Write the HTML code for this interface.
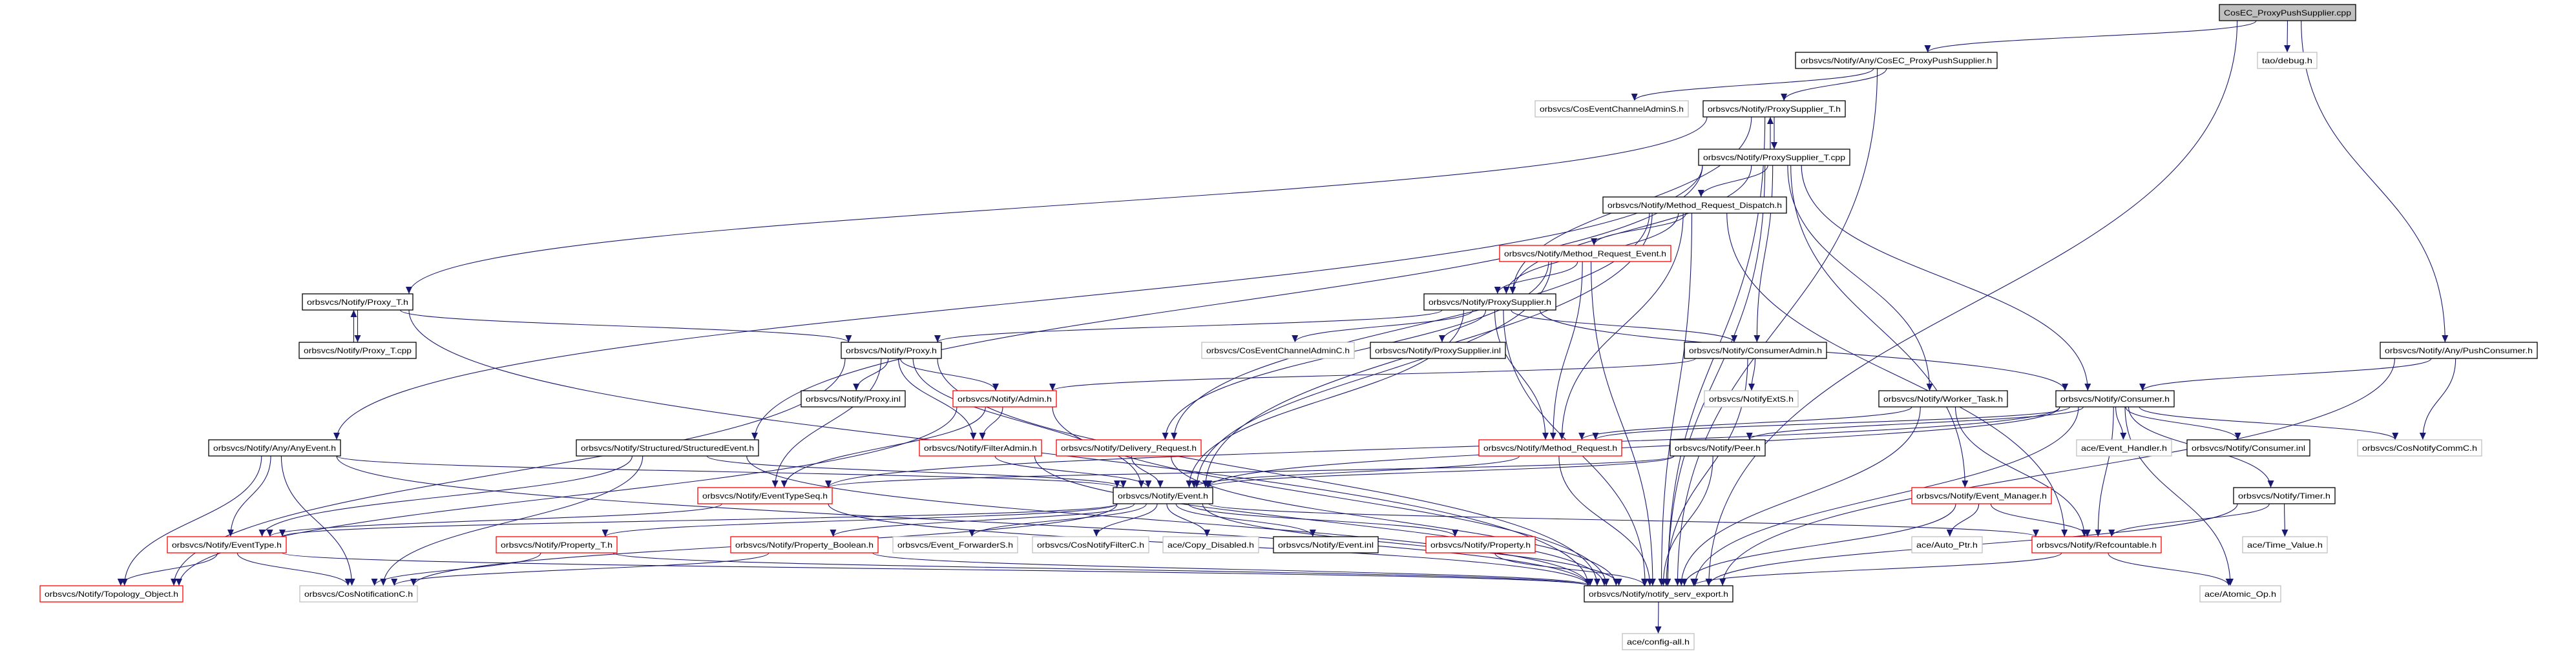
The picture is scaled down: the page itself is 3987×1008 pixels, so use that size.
<!DOCTYPE html>
<html><head><meta charset="utf-8"><style>
html,body{margin:0;padding:0;background:#fff;}
svg{display:block;}
text{font-family:"Liberation Sans",sans-serif;font-size:12px;fill:#000;}
</style></head><body>
<svg id="g" width="3987" height="1008" viewBox="0 0 3987 1008" xmlns="http://www.w3.org/2000/svg">
<defs><marker id="ah" markerUnits="userSpaceOnUse" markerWidth="12" markerHeight="10" refX="11" refY="5" orient="auto"><path d="M0,0 L11,5 L0,10 z" fill="#191970"/></marker></defs>
<g id="edges" fill="none" stroke="#191970" stroke-width="1.1"></g>
<g id="nodes" stroke-width="1.3">
<rect x="3435" y="7" width="211" height="25" fill="#bfbfbf" stroke="#000"/><text x="3540.5" y="24" text-anchor="middle" textLength="197" lengthAdjust="spacingAndGlyphs">CosEC_ProxyPushSupplier.cpp</text>
<rect x="3494" y="81" width="92" height="25" fill="#fff" stroke="#bfbfbf"/><text x="3540" y="98" text-anchor="middle" textLength="78" lengthAdjust="spacingAndGlyphs">tao/debug.h</text>
<rect x="2779" y="81" width="312" height="25" fill="#fff" stroke="#000"/><text x="2935" y="98" text-anchor="middle" textLength="296" lengthAdjust="spacingAndGlyphs">orbsvcs/Notify/Any/CosEC_ProxyPushSupplier.h</text>
<rect x="2376" y="156" width="237" height="25" fill="#fff" stroke="#bfbfbf"/><text x="2494.5" y="173" text-anchor="middle" textLength="223" lengthAdjust="spacingAndGlyphs">orbsvcs/CosEventChannelAdminS.h</text>
<rect x="2636" y="156" width="220" height="25" fill="#fff" stroke="#000"/><text x="2746" y="173" text-anchor="middle" textLength="206" lengthAdjust="spacingAndGlyphs">orbsvcs/Notify/ProxySupplier_T.h</text>
<rect x="2629" y="231" width="234" height="25" fill="#fff" stroke="#000"/><text x="2746" y="248" text-anchor="middle" textLength="220" lengthAdjust="spacingAndGlyphs">orbsvcs/Notify/ProxySupplier_T.cpp</text>
<rect x="2481" y="305" width="284" height="25" fill="#fff" stroke="#000"/><text x="2623" y="322" text-anchor="middle" textLength="270" lengthAdjust="spacingAndGlyphs">orbsvcs/Notify/Method_Request_Dispatch.h</text>
<rect x="2321" y="380" width="265" height="25" fill="#fff" stroke="#f00"/><text x="2453.5" y="397" text-anchor="middle" textLength="251" lengthAdjust="spacingAndGlyphs">orbsvcs/Notify/Method_Request_Event.h</text>
<rect x="468" y="455" width="171" height="25" fill="#fff" stroke="#000"/><text x="553.5" y="472" text-anchor="middle" textLength="157" lengthAdjust="spacingAndGlyphs">orbsvcs/Notify/Proxy_T.h</text>
<rect x="2204" y="455" width="204" height="25" fill="#fff" stroke="#000"/><text x="2306" y="472" text-anchor="middle" textLength="190" lengthAdjust="spacingAndGlyphs">orbsvcs/Notify/ProxySupplier.h</text>
<rect x="463" y="530" width="181" height="25" fill="#fff" stroke="#000"/><text x="553.5" y="547" text-anchor="middle" textLength="167" lengthAdjust="spacingAndGlyphs">orbsvcs/Notify/Proxy_T.cpp</text>
<rect x="1302" y="530" width="155" height="25" fill="#fff" stroke="#000"/><text x="1379.5" y="547" text-anchor="middle" textLength="141" lengthAdjust="spacingAndGlyphs">orbsvcs/Notify/Proxy.h</text>
<rect x="1860" y="530" width="236" height="25" fill="#fff" stroke="#bfbfbf"/><text x="1978" y="547" text-anchor="middle" textLength="222" lengthAdjust="spacingAndGlyphs">orbsvcs/CosEventChannelAdminC.h</text>
<rect x="2121" y="530" width="209" height="25" fill="#fff" stroke="#000"/><text x="2225.5" y="547" text-anchor="middle" textLength="195" lengthAdjust="spacingAndGlyphs">orbsvcs/Notify/ProxySupplier.inl</text>
<rect x="2607" y="530" width="220" height="25" fill="#fff" stroke="#000"/><text x="2717" y="547" text-anchor="middle" textLength="206" lengthAdjust="spacingAndGlyphs">orbsvcs/Notify/ConsumerAdmin.h</text>
<rect x="3684" y="530" width="243" height="25" fill="#fff" stroke="#000"/><text x="3805.5" y="547" text-anchor="middle" textLength="229" lengthAdjust="spacingAndGlyphs">orbsvcs/Notify/Any/PushConsumer.h</text>
<rect x="1240" y="605" width="161" height="25" fill="#fff" stroke="#000"/><text x="1320.5" y="622" text-anchor="middle" textLength="147" lengthAdjust="spacingAndGlyphs">orbsvcs/Notify/Proxy.inl</text>
<rect x="1475" y="605" width="160" height="25" fill="#fff" stroke="#f00"/><text x="1555" y="622" text-anchor="middle" textLength="146" lengthAdjust="spacingAndGlyphs">orbsvcs/Notify/Admin.h</text>
<rect x="2638" y="605" width="145" height="25" fill="#fff" stroke="#bfbfbf"/><text x="2710.5" y="622" text-anchor="middle" textLength="131" lengthAdjust="spacingAndGlyphs">orbsvcs/NotifyExtS.h</text>
<rect x="2908" y="605" width="199" height="25" fill="#fff" stroke="#000"/><text x="3007.5" y="622" text-anchor="middle" textLength="185" lengthAdjust="spacingAndGlyphs">orbsvcs/Notify/Worker_Task.h</text>
<rect x="3182" y="605" width="183" height="25" fill="#fff" stroke="#000"/><text x="3273.5" y="622" text-anchor="middle" textLength="169" lengthAdjust="spacingAndGlyphs">orbsvcs/Notify/Consumer.h</text>
<rect x="323" y="681" width="204" height="25" fill="#fff" stroke="#000"/><text x="425" y="698" text-anchor="middle" textLength="190" lengthAdjust="spacingAndGlyphs">orbsvcs/Notify/Any/AnyEvent.h</text>
<rect x="892" y="681" width="282" height="25" fill="#fff" stroke="#000"/><text x="1033" y="698" text-anchor="middle" textLength="268" lengthAdjust="spacingAndGlyphs">orbsvcs/Notify/Structured/StructuredEvent.h</text>
<rect x="1423" y="681" width="189" height="25" fill="#fff" stroke="#f00"/><text x="1517.5" y="698" text-anchor="middle" textLength="175" lengthAdjust="spacingAndGlyphs">orbsvcs/Notify/FilterAdmin.h</text>
<rect x="1635" y="681" width="224" height="25" fill="#fff" stroke="#f00"/><text x="1747" y="698" text-anchor="middle" textLength="210" lengthAdjust="spacingAndGlyphs">orbsvcs/Notify/Delivery_Request.h</text>
<rect x="2289" y="681" width="221" height="25" fill="#fff" stroke="#f00"/><text x="2399.5" y="698" text-anchor="middle" textLength="207" lengthAdjust="spacingAndGlyphs">orbsvcs/Notify/Method_Request.h</text>
<rect x="2585" y="681" width="147" height="25" fill="#fff" stroke="#000"/><text x="2658.5" y="698" text-anchor="middle" textLength="133" lengthAdjust="spacingAndGlyphs">orbsvcs/Notify/Peer.h</text>
<rect x="3214" y="681" width="147" height="25" fill="#fff" stroke="#bfbfbf"/><text x="3287.5" y="698" text-anchor="middle" textLength="133" lengthAdjust="spacingAndGlyphs">ace/Event_Handler.h</text>
<rect x="3385" y="681" width="190" height="25" fill="#fff" stroke="#000"/><text x="3480" y="698" text-anchor="middle" textLength="176" lengthAdjust="spacingAndGlyphs">orbsvcs/Notify/Consumer.inl</text>
<rect x="3649" y="681" width="192" height="25" fill="#fff" stroke="#bfbfbf"/><text x="3745" y="698" text-anchor="middle" textLength="178" lengthAdjust="spacingAndGlyphs">orbsvcs/CosNotifyCommC.h</text>
<rect x="1080" y="755" width="208" height="25" fill="#fff" stroke="#f00"/><text x="1184" y="772" text-anchor="middle" textLength="194" lengthAdjust="spacingAndGlyphs">orbsvcs/Notify/EventTypeSeq.h</text>
<rect x="1723" y="755" width="154" height="25" fill="#fff" stroke="#000"/><text x="1800" y="772" text-anchor="middle" textLength="140" lengthAdjust="spacingAndGlyphs">orbsvcs/Notify/Event.h</text>
<rect x="2959" y="755" width="216" height="25" fill="#fff" stroke="#f00"/><text x="3067" y="772" text-anchor="middle" textLength="202" lengthAdjust="spacingAndGlyphs">orbsvcs/Notify/Event_Manager.h</text>
<rect x="3457" y="755" width="157" height="25" fill="#fff" stroke="#000"/><text x="3535.5" y="772" text-anchor="middle" textLength="143" lengthAdjust="spacingAndGlyphs">orbsvcs/Notify/Timer.h</text>
<rect x="259" y="831" width="184" height="25" fill="#fff" stroke="#f00"/><text x="351" y="848" text-anchor="middle" textLength="170" lengthAdjust="spacingAndGlyphs">orbsvcs/Notify/EventType.h</text>
<rect x="768" y="831" width="187" height="25" fill="#fff" stroke="#f00"/><text x="861.5" y="848" text-anchor="middle" textLength="173" lengthAdjust="spacingAndGlyphs">orbsvcs/Notify/Property_T.h</text>
<rect x="1131" y="831" width="228" height="25" fill="#fff" stroke="#f00"/><text x="1245" y="848" text-anchor="middle" textLength="214" lengthAdjust="spacingAndGlyphs">orbsvcs/Notify/Property_Boolean.h</text>
<rect x="1382" y="831" width="193" height="25" fill="#fff" stroke="#bfbfbf"/><text x="1478.5" y="848" text-anchor="middle" textLength="179" lengthAdjust="spacingAndGlyphs">orbsvcs/Event_ForwarderS.h</text>
<rect x="1598" y="831" width="180" height="25" fill="#fff" stroke="#bfbfbf"/><text x="1688" y="848" text-anchor="middle" textLength="166" lengthAdjust="spacingAndGlyphs">orbsvcs/CosNotifyFilterC.h</text>
<rect x="1800" y="831" width="148" height="25" fill="#fff" stroke="#bfbfbf"/><text x="1874" y="848" text-anchor="middle" textLength="134" lengthAdjust="spacingAndGlyphs">ace/Copy_Disabled.h</text>
<rect x="1971" y="831" width="162" height="25" fill="#fff" stroke="#000"/><text x="2052" y="848" text-anchor="middle" textLength="148" lengthAdjust="spacingAndGlyphs">orbsvcs/Notify/Event.inl</text>
<rect x="2207" y="831" width="169" height="25" fill="#fff" stroke="#f00"/><text x="2291.5" y="848" text-anchor="middle" textLength="155" lengthAdjust="spacingAndGlyphs">orbsvcs/Notify/Property.h</text>
<rect x="2959" y="831" width="109" height="25" fill="#fff" stroke="#bfbfbf"/><text x="3013.5" y="848" text-anchor="middle" textLength="95" lengthAdjust="spacingAndGlyphs">ace/Auto_Ptr.h</text>
<rect x="3145" y="831" width="200" height="25" fill="#fff" stroke="#f00"/><text x="3245" y="848" text-anchor="middle" textLength="186" lengthAdjust="spacingAndGlyphs">orbsvcs/Notify/Refcountable.h</text>
<rect x="3471" y="831" width="131" height="25" fill="#fff" stroke="#bfbfbf"/><text x="3536.5" y="848" text-anchor="middle" textLength="117" lengthAdjust="spacingAndGlyphs">ace/Time_Value.h</text>
<rect x="62" y="907" width="221" height="25" fill="#fff" stroke="#f00"/><text x="172.5" y="924" text-anchor="middle" textLength="207" lengthAdjust="spacingAndGlyphs">orbsvcs/Notify/Topology_Object.h</text>
<rect x="464" y="907" width="182" height="25" fill="#fff" stroke="#bfbfbf"/><text x="555" y="924" text-anchor="middle" textLength="168" lengthAdjust="spacingAndGlyphs">orbsvcs/CosNotificationC.h</text>
<rect x="2452" y="907" width="230" height="25" fill="#fff" stroke="#000"/><text x="2567" y="924" text-anchor="middle" textLength="216" lengthAdjust="spacingAndGlyphs">orbsvcs/Notify/notify_serv_export.h</text>
<rect x="3405" y="907" width="125" height="25" fill="#fff" stroke="#bfbfbf"/><text x="3467.5" y="924" text-anchor="middle" textLength="111" lengthAdjust="spacingAndGlyphs">ace/Atomic_Op.h</text>
<rect x="2511" y="981" width="111" height="25" fill="#fff" stroke="#bfbfbf"/><text x="2566.5" y="998" text-anchor="middle" textLength="97" lengthAdjust="spacingAndGlyphs">ace/config-all.h</text>
</g>
</svg>
<script>
var R=[7,81,156,231,305,380,455,530,605,681,755,831,907,981];
var N={cpp:[3435,3646,0],dbg:[3494,3586,1],acpps:[2779,3091,1],ceas:[2376,2613,2],pst:[2636,2856,2],pstc:[2629,2863,3],mrd:[2481,2765,4],mre:[2321,2586,5],pt:[468,639,6],ps:[2204,2408,6],ptc:[463,644,7],px:[1302,1457,7],ceac:[1860,2096,7],psi:[2121,2330,7],ca:[2607,2827,7],apc:[3684,3927,7],pxi:[1240,1401,8],adm:[1475,1635,8],ext:[2638,2783,8],wt:[2908,3107,8],con:[3182,3365,8],ae:[323,527,9],se:[892,1174,9],fa:[1423,1612,9],dr:[1635,1859,9],mr:[2289,2510,9],peer:[2585,2732,9],eh:[3214,3361,9],ci:[3385,3575,9],cnc:[3649,3841,9],ets:[1080,1288,10],ev:[1723,1877,10],em:[2959,3175,10],tm:[3457,3614,10],et:[259,443,11],ptt:[768,955,11],pb:[1131,1359,11],efs:[1382,1575,11],nfc:[1598,1778,11],cd:[1800,1948,11],evi:[1971,2133,11],prop:[2207,2376,11],ap:[2959,3068,11],rc:[3145,3345,11],tv:[3471,3602,11],to:[62,283,12],cn:[464,646,12],nse:[2452,2682,12],ao:[3405,3530,12],cfg:[2511,2622,13]};
var E="cpp>acpps cpp>dbg cpp>apc cpp>nse acpps>ceas acpps>pst acpps>nse pst>pstc pstc>pst pst>pt pst>ps pst>nse pstc>mrd pstc>con pstc>wt pstc>em pstc>ca pstc>ae pstc>se pstc>ps pstc>nse mrd>mre mrd>ps mrd>mr mrd>nse mrd>dr mrd>rc mrd>ev mre>ps mre>mr mre>ev mre>dr mre>nse pt>ptc ptc>pt pt>px pt>nse ps>px ps>ceac ps>psi ps>ca ps>con ps>ev ps>mr ps>nse px>pxi px>adm px>fa px>ets px>to px>nse px>ev adm>fa adm>ets adm>to adm>nse ca>ext ca>adm ca>nse wt>mr wt>rc wt>nse con>peer con>eh con>ci con>cnc con>tm con>rc con>ao con>mr con>ev con>ets con>nse apc>con apc>cnc apc>nse ae>et ae>cn ae>ev ae>nse ae>to se>et se>cn se>ev se>nse fa>ev fa>nse dr>ev dr>nse mr>ev mr>nse peer>ets peer>ev peer>nse ets>et ets>nse ev>pb ev>efs ev>nfc ev>cd ev>evi ev>prop ev>rc ev>et ev>cn ev>ptt ev>nse em>ap em>rc em>nse tm>tv tm>rc tm>nse et>to et>cn et>nse ptt>cn ptt>nse pb>nse pb>cn prop>nse rc>ao rc>nse nse>cfg".split(" ");
var g=document.getElementById("edges"),s="";
function cl(v,a,b){return Math.max(a,Math.min(b,v));}
E.forEach(function(e){var p=e.split(">"),a=N[p[0]],b=N[p[1]];
var ac=(a[0]+a[1])/2,bc=(b[0]+b[1])/2,aw=(a[1]-a[0])/2-6,bw=(b[1]-b[0])/2-6;
var sx=ac+cl((bc-ac)*0.08,-aw,aw),tx=bc+cl((ac-bc)*0.08,-bw,bw),sy,ty;
if(b[2]>a[2]){sy=R[a[2]]+25;ty=R[b[2]];}else{sy=R[a[2]];ty=R[b[2]]+25;sx-=6;tx-=6;if(p[0]=="pst"||p[0]=="pt"){sx+=12;tx+=12;}}
var d=(ty-sy)/2;
s+='<path d="M'+sx+','+sy+' C'+sx+','+(sy+d)+' '+tx+','+(ty-d)+' '+tx+','+ty+'" marker-end="url(#ah)"/>';});
g.innerHTML=s;
</script>
</body></html>
